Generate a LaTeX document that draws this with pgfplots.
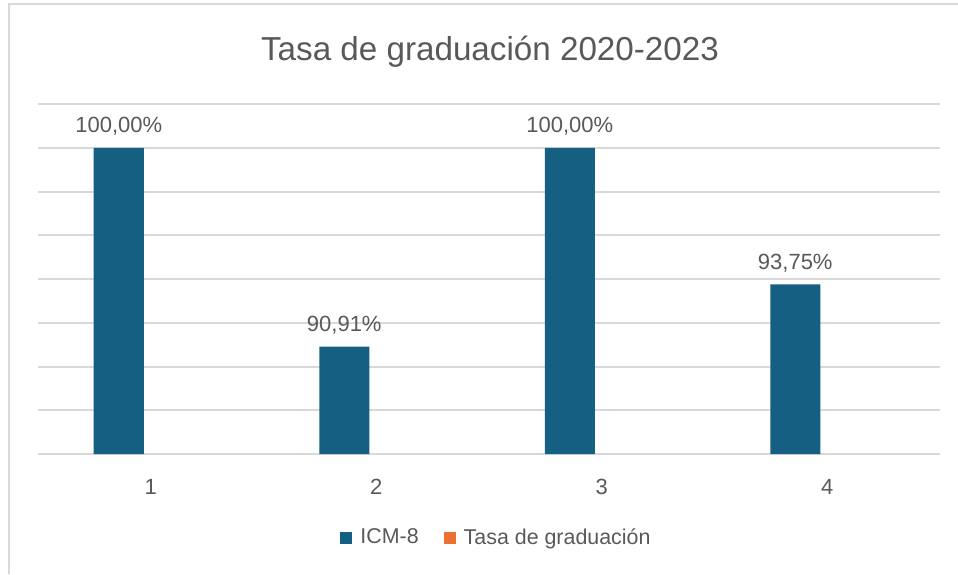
\documentclass[border=0pt]{standalone}
\usepackage{fontspec}
\setmainfont{Liberation Sans}
\usepackage{pgfplots}
\pgfplotsset{compat=1.18}
\definecolor{bluebar}{HTML}{156082}
\definecolor{orangebar}{HTML}{E97132}
\definecolor{txt}{HTML}{595959}
\definecolor{gridc}{HTML}{D9D9D9}
\begin{document}
\begin{tikzpicture}[x=0.5pt,y=0.5pt]
\path[use as bounding box] (0,0) rectangle (958,574);
\draw[gridc, line width=1pt] (9,0) -- (9,570) -- (958,570);
\node[txt, font=\fontsize{16.6}{19}\selectfont, anchor=base] at (490, 574-61) {Tasa de graduación 2020-2023};
\begin{axis}[
  at={(19pt,60pt)}, anchor=south west,
  scale only axis, width=451pt, height=175pt,
  xmin=0.5, xmax=4.5, ymin=86, ymax=102,
  xtick={1,2,3,4},
  ytick={86,88,...,102}, yticklabels={},
  /pgf/number format/assume math mode=true,
  ymajorgrids, grid style={gridc, line width=1pt},
  axis line style={draw=none},
  major tick length=0pt,
  xticklabel style={txt, font=\fontsize{11}{13}\selectfont, yshift=-9pt},
  legend style={at={(0.5,-42pt)}, anchor=center, xshift=4pt, draw=none, fill=none,
    legend columns=2, font=\fontsize{10.7}{12}\selectfont, text=txt,
    /tikz/every even column/.append style={column sep=11pt},
    nodes={inner sep=1.5pt}},
  legend image code/.code={\fill[#1] (0pt,-3pt) rectangle (6pt,3pt);},
  clip=true,
]
\addplot[ybar, fill=bluebar, draw=none, bar width=25pt, bar shift=-16pt,
  nodes near coords={\pgfmathprintnumber[fixed,fixed zerofill,precision=2,use comma,assume math mode=true]{\pgfplotspointmeta}\%},
  every node near coord/.append style={txt, font=\fontsize{11}{13}\selectfont, anchor=base, inner sep=0pt, xshift=-16pt, yshift=7.5pt}]
  coordinates {(1,100) (2,90.91) (3,100) (4,93.75)};
\addlegendentry{\hspace{2.5pt}ICM-8}
\addlegendimage{fill=orangebar, draw=none}
\addlegendentry{\hspace{2.5pt}Tasa de graduación}
\end{axis}
\end{tikzpicture}
\end{document}
